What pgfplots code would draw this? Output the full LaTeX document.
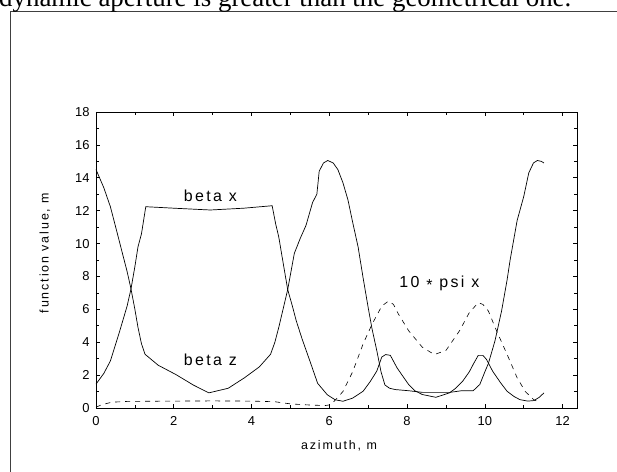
\documentclass[border=0pt]{standalone}
\usepackage{fontspec}
\setmainfont{Liberation Sans}
\newfontfamily\seriffont{Liberation Serif}
\newfontfamily\lab{Liberation Sans}[LetterSpace=15]
\usepackage{pgfplots}
\pgfplotsset{compat=1.18}
\begin{document}
\begin{tikzpicture}[x=1bp,y=1bp]
\begin{axis}[
  at={(0,0)}, anchor=south west,
  scale only axis, width=481bp, height=296bp,
  xmin=0, xmax=12.37, ymin=0, ymax=18,
  xtick={0,2,...,12}, ytick={0,2,...,18},
  minor x tick num=1, minor y tick num=1,
  tick align=inside,
  major tick length=4bp, minor tick length=3bp,
  every tick/.style={black, line width=0.6bp},
  axis line style={line width=0.9bp},
  /pgf/number format/assume math mode=true,
  tick label style={font=\fontsize{13}{13}\selectfont},
  xticklabel style={yshift=-5bp},
  yticklabel style={xshift=-3bp},
  clip=false,
]
\addplot[black, line width=0.7bp] coordinates {
(0,1.45) (0.2,2.1) (0.37,2.86) (0.6,4.6) (0.8,6.2) (0.9,7.24) (1.0,8.6) (1.08,9.8) (1.17,10.6) (1.28,12.24) (2.0,12.15) (2.94,12.04) (3.8,12.15) (4.53,12.3) (4.62,11.2) (4.7,10.4) (4.8,9.0) (4.93,7.2) (5.05,6.2) (5.15,5.3) (5.3,4.2) (5.5,2.86) (5.7,1.5) (5.95,0.8) (6.15,0.5) (6.35,0.41) (6.6,0.6) (6.87,1.02) (7.05,1.6) (7.22,2.24) (7.35,3.1) (7.45,3.25) (7.57,3.2) (7.74,2.45) (7.9,1.9) (8.04,1.43) (8.2,1.05) (8.39,0.82) (8.74,0.65) (9.09,0.92) (9.25,1.2) (9.43,1.63) (9.6,2.2) (9.7,2.65) (9.83,3.2) (9.95,3.2) (10.04,2.96) (10.2,2.24) (10.4,1.55) (10.57,1.02) (10.75,0.7) (10.9,0.51) (11.1,0.42) (11.26,0.45) (11.4,0.65) (11.52,0.92)
};
\addplot[black, line width=0.7bp] coordinates {
(0,14.5) (0.2,13.4) (0.37,12.24) (0.55,10.6) (0.68,9.4) (0.8,8.3) (0.9,7.24) (1.0,6.0) (1.08,4.9) (1.17,3.9) (1.26,3.27) (1.6,2.6) (2.05,2.04) (2.5,1.4) (2.9,0.92) (3.4,1.2) (3.82,1.84) (4.2,2.5) (4.49,3.27) (4.6,4.0) (4.7,4.9) (4.8,5.9) (4.93,7.2) (5.1,9.4) (5.25,10.3) (5.4,11.1) (5.57,12.5) (5.68,13.0) (5.74,14.4) (5.85,14.9) (5.96,15.05) (6.1,14.9) (6.22,14.5) (6.35,13.7) (6.48,12.65) (6.6,11.3) (6.74,9.8) (6.87,7.9) (7.0,6.1) (7.1,4.8) (7.22,3.5) (7.33,2.2) (7.43,1.4) (7.55,1.2) (7.7,1.12) (8.04,1.05) (8.4,0.95) (8.8,0.95) (9.1,0.95) (9.4,1.05) (9.7,1.05) (9.87,1.43) (10.0,2.2) (10.09,2.7) (10.26,4.08) (10.43,5.9) (10.57,7.76) (10.65,9.0) (10.83,11.4) (11.0,12.86) (11.13,14.3) (11.25,14.9) (11.35,15.05) (11.45,15.0) (11.52,14.9)
};
\addplot[black, line width=0.6bp, dash pattern=on 5bp off 5bp] coordinates {
(0,0.05) (0.15,0.2) (0.4,0.35) (0.8,0.4) (2,0.42) (3,0.43) (4,0.42) (4.6,0.38) (5.0,0.25) (5.5,0.18) (5.9,0.15) (6.04,0.2) (6.2,0.6) (6.35,1.0) (6.6,2.2) (6.87,3.9) (7.1,5.1) (7.35,6.2) (7.52,6.5) (7.65,6.3) (7.78,5.7) (8.04,4.7) (8.39,3.7) (8.7,3.25) (9.0,3.5) (9.35,4.7) (9.6,5.8) (9.83,6.4) (9.95,6.3) (10.09,5.9) (10.3,4.7) (10.57,3.27) (10.83,1.84) (11.04,1.0) (11.26,0.5) (11.4,0.35)
};
\node[font=\lab\fontsize{16}{16}\selectfont] at (axis cs:2.94,12.9) {beta x};
\node[font=\lab\fontsize{16}{16}\selectfont] at (axis cs:2.94,2.96) {beta z};
\node[font=\lab\fontsize{16}{16}\selectfont] at (axis cs:8.83,7.6) {10 \raisebox{-0.35ex}{*} psi x};
\end{axis}
\node[font=\lab\fontsize{12.5}{12.5}\selectfont] at (243,-38) {azimuth, m};
\node[rotate=90, font=\lab\fontsize{12.5}{12.5}\selectfont] at (-51,155) {function value, m};
\draw[line width=0.8bp, black!75] (-86,-80) -- (-86,397) -- (540,397);
\node[anchor=base west, inner sep=0pt, font=\seriffont\fontsize{27}{27}\selectfont] at (-97,401) {dynamic aperture is greater than the geometrical one.};
\pgfresetboundingbox
\useasboundingbox (-96,-64) rectangle (521,408);
\end{tikzpicture}
\end{document}
